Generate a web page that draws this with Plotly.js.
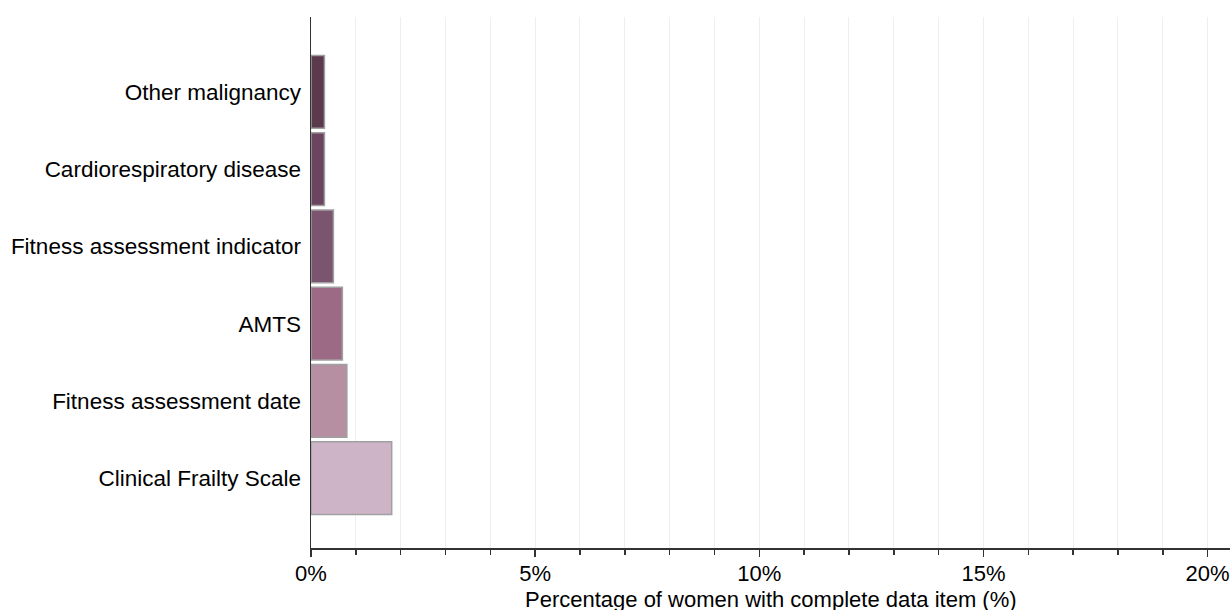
<!DOCTYPE html>
<html>
<head>
<meta charset="utf-8">
<script src="https://cdn.plot.ly/plotly-3.0.1.min.js"></script>
<style>html,body{margin:0;padding:0;background:#fff}#chart{width:1230px;height:610px}</style>
</head>
<body>
<div id="chart"></div>
<script>
const categories = ["Clinical Frailty Scale", "Fitness assessment date", "AMTS", "Fitness assessment indicator", "Cardiorespiratory disease", "Other malignancy"];
const values = [1.8, 0.8, 0.7, 0.5, 0.3, 0.3];
const colors = ["#cdb4c6", "#b68fa2", "#9d6a85", "#7b5570", "#6b4560", "#5c3a4e"];
const xTickVals = [0, 5, 10, 15, 20];
const xTickText = ["0%", "5%", "10%", "15%", "20%"];
const xTitle = "Percentage of women with complete data item (%)";

const trace = {
  type: "bar",
  orientation: "h",
  x: values,
  y: categories,
  marker: { color: colors, line: { color: "#a0a0a0", width: 1.5 } },
  hoverinfo: "x+y"
};

const layout = {
  width: 1230, height: 610,
  margin: { l: 311, r: 0, t: 17, b: 62 },
  paper_bgcolor: "#fff", plot_bgcolor: "#fff",
  font: { family: "Liberation Sans, Arial, sans-serif", size: 22.5, color: "#000" },
  bargap: 0.06,
  showlegend: false,
  xaxis: {
    range: [0, 20.5],
    tickvals: xTickVals, ticktext: xTickText,
    ticklabeloverflow: "allow",
    ticks: "outside", ticklen: 7, tickwidth: 1.5, tickcolor: "#333",
    ticklabelstandoff: -2,
    showline: true, linecolor: "#333", linewidth: 1.5,
    showgrid: true, gridcolor: "#ebeef3", gridwidth: 1,
    zeroline: false,
    minor: { dtick: 1, tick0: 0, ticks: "outside", ticklen: 5, tickwidth: 1.5, tickcolor: "#333", showgrid: true, gridcolor: "#ebeef3", gridwidth: 1 },
    tickfont: { size: 22 }
  },
  yaxis: {
    type: "category",
    categoryorder: "array", categoryarray: categories,
    range: [-0.905, 5.97],
    showline: true, linecolor: "#333", linewidth: 1.5,
    ticks: "", ticklen: 0,
    showgrid: false, zeroline: false,
    tickfont: { size: 22.5 },
    ticklabelstandoff: 4
  },
  annotations: [{
    text: xTitle, xref: "paper", yref: "paper", x: 0.5, y: 0,
    xanchor: "center", yanchor: "top", yshift: -37, showarrow: false,
    font: { size: 22, color: "#000" }
  }]
};

Plotly.newPlot("chart", [trace], layout, { displayModeBar: false, staticPlot: true });
</script>
</body>
</html>
